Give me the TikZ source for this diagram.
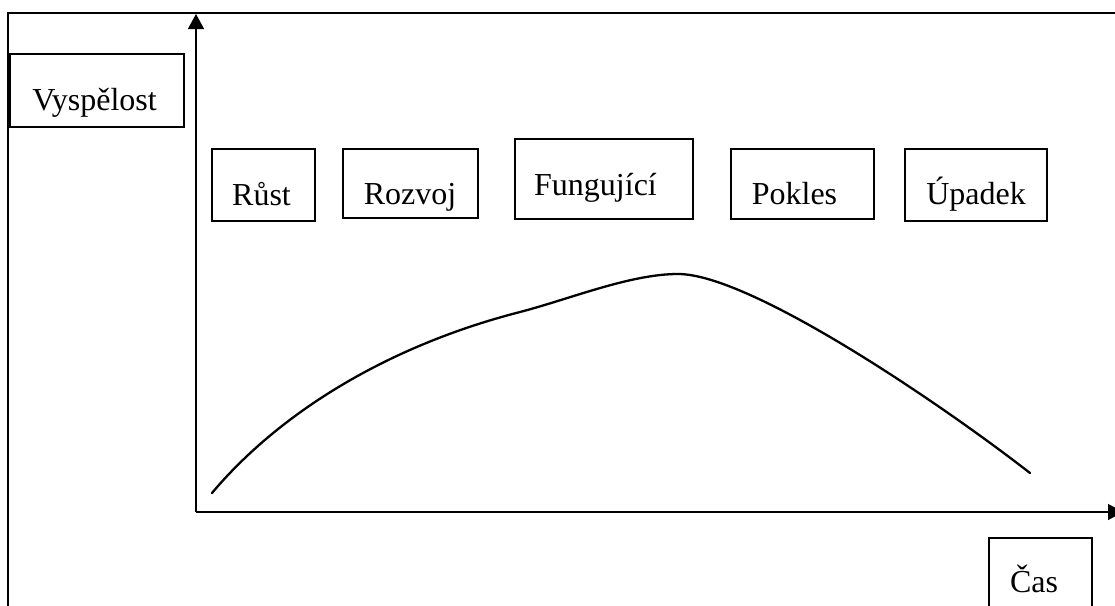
\documentclass[tikz,border=0pt]{standalone}
\usepackage{fontspec}
\setmainfont{Liberation Serif}
\usetikzlibrary{arrows.meta}
\begin{document}
\begin{tikzpicture}[x=1pt,y=-1pt,
  box/.style={draw=black,line width=2pt,rectangle,inner sep=0pt},
  lbl/.style={inner sep=0pt,anchor=base,font=\fontsize{32}{37}\selectfont},
  axis/.style={line width=1.4pt,-{Triangle[length=15pt,width=16pt]}}]
\useasboundingbox (0,0) rectangle (1115,605);
\clip (0,0) rectangle (1115,605);
% outer frame (clipped at right and bottom)
\draw[line width=2pt] (8,640) -- (8,12.5) -- (1140,12.5);
% axes
\coordinate (O) at (196,512);
\coordinate (ytop) at (196,14);
\coordinate (xend) at (1123,512);
\draw[axis] (O) -- (ytop);
\draw[axis] (O) -- (xend);
% boxes
\node[box,minimum width=174pt,minimum height=73pt] (vbox) at (97,90.5) {};
\node[box,minimum width=103pt,minimum height=72pt] (rbox) at (263.5,185) {};
\node[box,minimum width=135pt,minimum height=69pt] (rzbox) at (410.5,183.5) {};
\node[box,minimum width=178pt,minimum height=80pt] (fbox) at (604,179) {};
\node[box,minimum width=143pt,minimum height=70pt] (pbox) at (802.5,184) {};
\node[box,minimum width=142pt,minimum height=72pt] (ubox) at (976,185) {};
\node[box,minimum width=103pt,minimum height=120pt] (cbox) at (1040.5,598) {};
% labels
\node[lbl] (vl) at (94.5,110) {Vyspělost};
\node[lbl] (rl) at (261.5,205) {Růst};
\begin{scope}
\clip (343,149) rectangle (478,210);
\node[lbl] (rzl) at (410,204) {Rozvoj};
\end{scope}
\node[lbl] (fl) at (595.5,195) {Fungující};
\node[lbl] (pl) at (794.5,204) {Pokles};
\node[lbl] (ul) at (976,204) {Úpadek};
\node[lbl] (cl) at (1034,592) {Čas};
% curve
\coordinate (c0) at (212,493);
\coordinate (c1) at (520,312);
\coordinate (c2) at (678,274);
\coordinate (c3) at (1030,473);
\draw[line width=2.3pt,line cap=round]
  (c0) .. controls (275,418) and (380,348) .. (c1)
       .. controls (570,299) and (630,274) .. (c2)
       .. controls (750,274) and (940,403) .. (c3);
\end{tikzpicture}
\end{document}
